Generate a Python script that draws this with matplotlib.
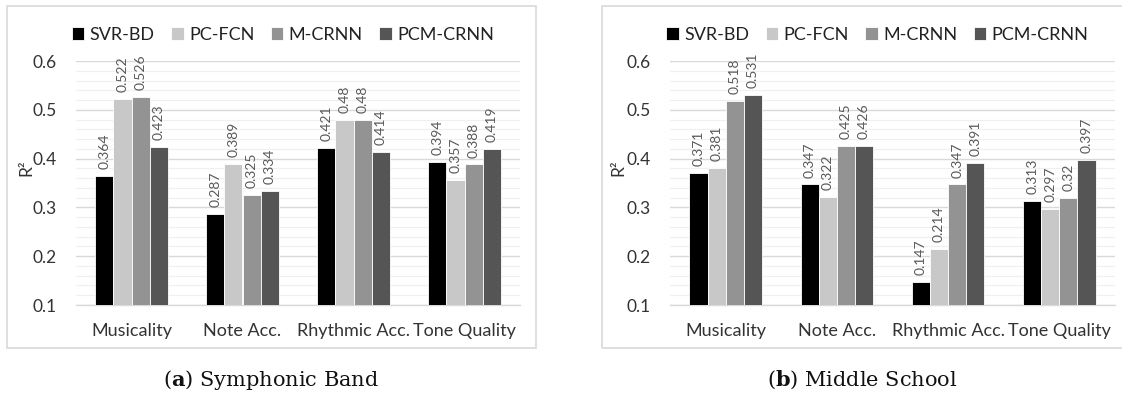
import matplotlib
matplotlib.use('Agg')
import matplotlib.pyplot as plt
from matplotlib.patches import Rectangle
from matplotlib.ticker import MultipleLocator
import numpy as np

plt.rcParams.update({
    'font.family': ['Lato', 'DejaVu Sans'],
    'font.size': 12,
    'mathtext.fontset': 'custom',
    'mathtext.rm': 'DejaVu Serif',
    'mathtext.bf': 'DejaVu Serif:bold',
})

categories = ['Musicality', 'Note Acc.', 'Rhythmic Acc.', 'Tone Quality']
models = ['SVR-BD', 'PC-FCN', 'M-CRNN', 'PCM-CRNN']
colors = ['#000000', '#c8c8c8', '#939393', '#555555']

# panel (a) Symphonic Band
band_svr = [0.364, 0.287, 0.421, 0.394]
band_pcfcn = [0.522, 0.389, 0.48, 0.357]
band_mcrnn = [0.526, 0.325, 0.48, 0.388]
band_pcm = [0.423, 0.334, 0.414, 0.419]

# panel (b) Middle School
middle_svr = [0.371, 0.347, 0.147, 0.313]
middle_pcfcn = [0.381, 0.322, 0.214, 0.297]
middle_mcrnn = [0.518, 0.425, 0.347, 0.32]
middle_pcm = [0.531, 0.426, 0.391, 0.397]

fig = plt.figure(figsize=(11.22, 3.98), dpi=100)
W, H = 1122, 398


def px(x0, y0, x1, y1):
    # pixel box (top-left origin) -> figure fraction rect
    return [x0 / W, 1 - y1 / H, (x1 - x0) / W, (y1 - y0) / H]


# panel frames
for x0, x1 in [(7, 536), (602, 1125)]:
    fig.patches.append(Rectangle((x0 / W, 1 - 348 / H), (x1 - x0) / W, 342 / H,
                                 transform=fig.transFigure, fill=False,
                                 edgecolor='#d9d9d9', linewidth=1.2))

panels = [
    (px(76, 61, 520, 305), [band_svr, band_pcfcn, band_mcrnn, band_pcm], 26, 271, 'a', 'Symphonic Band'),
    (px(670, 61, 1115, 305), [middle_svr, middle_pcfcn, middle_mcrnn, middle_pcm], 618, 862, 'b', 'Middle School'),
]

x = np.arange(len(categories))
bw = 0.1625

for rect, series, ylab_x, cap_x, letter, caption in panels:
    ax = fig.add_axes(rect)
    for i, (vals, c, name) in enumerate(zip(series, colors, models)):
        pos = x + (i - 1.5) * bw
        ax.bar(pos, np.array(vals) - 0.1, bw, bottom=0.1, color=c,
               edgecolor='white', linewidth=0.6, label=name, zorder=3)
        for xp, v in zip(pos, vals):
            ax.annotate(f'{v:g}', (xp, v), xytext=(0, 5), textcoords='offset points',
                        rotation=90, ha='center', va='bottom', fontsize=10,
                        color='#595959', annotation_clip=False)
    ax.set_ylim(0.1, 0.6)
    ax.set_xlim(-0.5, 3.5)
    ax.yaxis.set_minor_locator(MultipleLocator(0.02))
    ax.set_yticks([0.1, 0.2, 0.3, 0.4, 0.5, 0.6])
    ax.set_yticklabels(['0.1', '0.2', '0.3', '0.4', '0.5', '0.6'])
    ax.set_xticks(x)
    ax.set_xticklabels(categories, fontsize=13)
    ax.grid(axis='y', which='major', color='#d9d9d9', linewidth=1.0, zorder=0)
    ax.grid(axis='y', which='minor', color='#f0f0f0', linewidth=0.9, zorder=0)
    ax.tick_params(axis='both', which='both', length=0, colors='#333333')
    ax.tick_params(axis='y', labelsize=12.5, pad=14)
    ax.tick_params(axis='x', pad=13)
    for s in ['top', 'right', 'left']:
        ax.spines[s].set_visible(False)
    ax.spines['bottom'].set_color('#d9d9d9')
    ax.spines['bottom'].set_linewidth(1.0)
    ax.set_axisbelow(True)

    fig.text(ylab_x / W, 1 - 168 / H, 'R²', rotation=90, ha='center', va='center',
             fontsize=12.5, color='#333333')
    ax.legend(loc='center', bbox_to_anchor=(0.466, 1.108), ncol=4, frameon=False,
              handlelength=0.7, handleheight=0.7, handletextpad=0.3,
              columnspacing=0.9, fontsize=13, borderaxespad=0,
              labelcolor='#222222')

    fig.text(cap_x / W, 1 - 380 / H, rf'($\mathbf{{{letter}}}$) {caption}', ha='center',
             va='center', fontsize=15, family='DejaVu Serif', color='#111111')

fig.savefig('out.png', dpi=100)
